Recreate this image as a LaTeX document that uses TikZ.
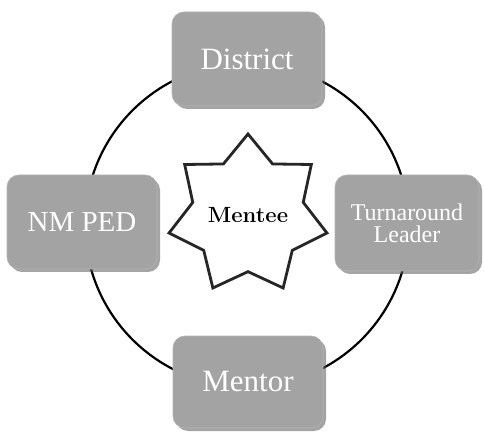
\documentclass[tikz,border=0pt]{standalone}
\usepackage{fontspec}
\usepackage{tikz}
\usepackage{xcolor}
\usetikzlibrary{shapes.geometric,shadows}
\newfontfamily\boxfont{Liberation Serif}

\begin{document}
\begin{tikzpicture}[x=1pt,y=-1pt,
  rolebox/.style={rectangle,rounded corners=12pt,fill=gray!72,draw=gray!60,line width=0.6pt,
    minimum width=150pt,minimum height=94pt,text=white,align=center,
    font=\boxfont\fontsize{31}{31}\selectfont,
    drop shadow={shadow xshift=3pt,shadow yshift=-3pt,fill=gray!70!black,opacity=0.55}}]
\useasboundingbox (0,0) rectangle (484,435);
\coordinate (O) at (247,225);
\draw[line width=2.2pt] (O) circle[radius=162pt];
\draw (247,59) node[rolebox](D) {District};
\draw (407,223) node[rolebox,minimum width=144pt,minimum height=96pt,inner sep=2pt,
  font=\boxfont\fontsize{24}{22}\selectfont](T) {Turnaround\\Leader};
\draw (82,222) node[rolebox,font=\boxfont\fontsize{29}{29}\selectfont](N) {NM PED};
\draw (248,382) node[rolebox,minimum height=92pt](M) {Mentor};
\draw (248,215) node[star,star points=7,star point ratio=1.43,minimum size=162pt,inner sep=0pt,
  fill=white,draw=black!85,line width=2.8pt,font=\bfseries\fontsize{22}{22}\selectfont](S) {Mentee};
\end{tikzpicture}
\end{document}
